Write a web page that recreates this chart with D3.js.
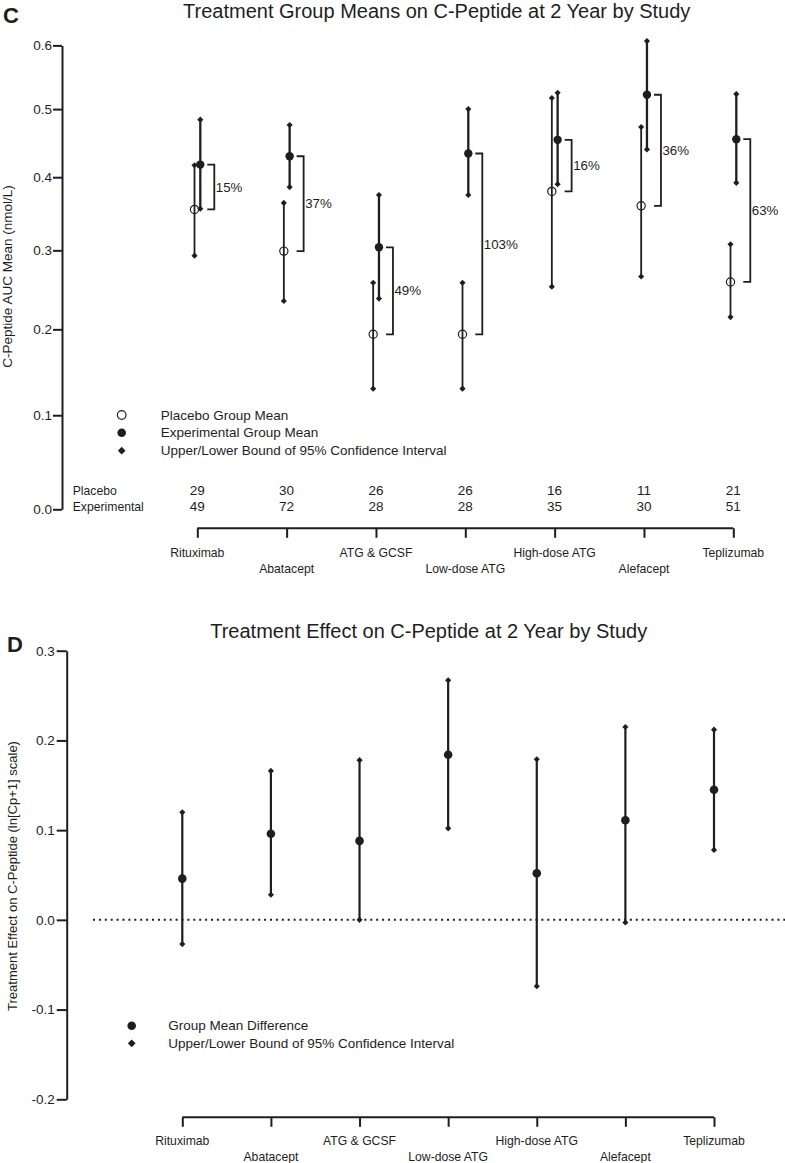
<!DOCTYPE html>
<html>
<head>
<meta charset="utf-8">
<script src="https://cdn.jsdelivr.net/npm/d3@7"></script>
<style>
  html, body { margin: 0; padding: 0; background: #fff; }
  svg { display: block; font-family: "Liberation Sans", Arial, Helvetica, sans-serif; }
</style>
</head>
<body>
<svg id="chart" width="785" height="1163"></svg>
<script>
// ---------- DATA ----------
const categories = ["Rituximab", "Abatacept", "ATG & GCSF", "Low-dose ATG", "High-dose ATG", "Alefacept", "Teplizumab"];

// Panel C: group means (nmol/L) and 95% CI bounds
const placeboMean  = [0.355, 0.299, 0.194, 0.194, 0.380, 0.360, 0.259];
const placeboLower = [0.293, 0.235, 0.130, 0.130, 0.253, 0.266, 0.215];
const placeboUpper = [0.417, 0.364, 0.258, 0.258, 0.517, 0.473, 0.308];
const expMean      = [0.418, 0.430, 0.304, 0.434, 0.454, 0.522, 0.455];
const expLower     = [0.356, 0.386, 0.238, 0.375, 0.390, 0.440, 0.392];
const expUpper     = [0.484, 0.476, 0.375, 0.500, 0.525, 0.607, 0.523];
const pctLabels    = ["15%", "37%", "49%", "103%", "16%", "36%", "63%"];
const nPlacebo     = [29, 30, 26, 26, 16, 11, 21];
const nExperimental= [49, 72, 28, 28, 35, 30, 51];
const topTicks     = [0.0, 0.1, 0.2, 0.3, 0.4, 0.5, 0.6];

// Panel D: treatment effect (ln[Cp+1] scale)
const diffMean  = [0.046, 0.096, 0.088, 0.184, 0.052, 0.111, 0.145];
const diffLower = [-0.027, 0.028, 0.000, 0.102, -0.074, -0.003, 0.078];
const diffUpper = [0.120, 0.166, 0.178, 0.267, 0.179, 0.215, 0.212];
const bottomTicks = [-0.2, -0.1, 0.0, 0.1, 0.2, 0.3];

// ---------- DRAW ----------
const ink = "#1e1e1e";
const svg = d3.select("#chart");
const diamond = d3.symbol().type(d3.symbolDiamond2).size(24);
const legDiamond = d3.symbol().type(d3.symbolDiamond2).size(38);

// ===== Panel C =====
const gC = svg.append("g");
const yC = d3.scaleLog().domain([1, 1.6]).range([509.3, 45.4]);
const yv = v => yC(1 + v);
const xC = d3.scalePoint().domain(categories).range([197.3, 733.3]);

gC.append("text").attr("x", 3).attr("y", 22.7)
  .attr("font-size", 22).attr("font-weight", "bold").attr("fill", ink).text("C");
gC.append("text").attr("x", 436.7).attr("y", 18.2).attr("text-anchor", "middle")
  .attr("font-size", 20).attr("fill", ink).text("Treatment Group Means on C-Peptide at 2 Year by Study");

const axC = gC.append("g").attr("transform", "translate(62,0)")
  .call(d3.axisLeft(yC).tickValues(topTicks.map(t => 1 + t))
    .tickFormat(d => (d - 1).toFixed(1)).tickSize(9).tickSizeOuter(0).tickPadding(1));
axC.select(".domain").attr("stroke", ink).attr("stroke-width", 2);
axC.selectAll(".tick line").attr("stroke", ink).attr("stroke-width", 2);
axC.selectAll(".tick text").attr("font-size", 13.5).attr("fill", ink)
  .attr("font-family", "Liberation Sans, Arial, sans-serif");

gC.append("text").attr("transform", "translate(11.7,276.5) rotate(-90)")
  .attr("text-anchor", "middle").attr("font-size", 13.5).attr("fill", ink)
  .text("C-Peptide AUC Mean (nmol/L)");

// bottom category axis
const axCx = gC.append("g").attr("transform", "translate(0,528.3)")
  .call(d3.axisBottom(xC).tickSize(9.5).tickSizeOuter(0).tickFormat(""));
axCx.select(".domain").attr("stroke", ink).attr("stroke-width", 2)
  .attr("d", `M${xC.range()[0]},0H${xC.range()[1]}`);
axCx.selectAll(".tick line").attr("stroke", ink).attr("stroke-width", 2);
gC.selectAll(".catC").data(categories).join("text")
  .attr("x", d => xC(d)).attr("y", (d, i) => i % 2 === 0 ? 552.5 : 568.5)
  .attr("dy", "0.35em").attr("text-anchor", "middle").attr("font-size", 12.2).attr("fill", ink)
  .text(d => d);

// counts
gC.append("text").attr("x", 72.7).attr("y", 490.7).attr("dy", "0.35em")
  .attr("font-size", 12.2).attr("fill", ink).text("Placebo");
gC.append("text").attr("x", 72.7).attr("y", 506.7).attr("dy", "0.35em")
  .attr("font-size", 12.2).attr("fill", ink).text("Experimental");
gC.selectAll(".nP").data(nPlacebo).join("text")
  .attr("x", (d, i) => xC(categories[i])).attr("y", 490.7).attr("dy", "0.35em")
  .attr("text-anchor", "middle").attr("font-size", 13.5).attr("fill", ink).text(d => d);
gC.selectAll(".nE").data(nExperimental).join("text")
  .attr("x", (d, i) => xC(categories[i])).attr("y", 506.7).attr("dy", "0.35em")
  .attr("text-anchor", "middle").attr("font-size", 13.5).attr("fill", ink).text(d => d);

// error bars, means, brackets
categories.forEach((c, i) => {
  const xp = xC(c) - 2.8, xe = xC(c) + 3;
  gC.append("line").attr("x1", xp).attr("x2", xp)
    .attr("y1", yv(placeboLower[i])).attr("y2", yv(placeboUpper[i]))
    .attr("stroke", ink).attr("stroke-width", 1.8);
  gC.append("line").attr("x1", xe).attr("x2", xe)
    .attr("y1", yv(expLower[i])).attr("y2", yv(expUpper[i]))
    .attr("stroke", ink).attr("stroke-width", 2.3);
  [placeboLower[i], placeboUpper[i]].forEach(v =>
    gC.append("path").attr("d", diamond).attr("transform", `translate(${xp},${yv(v)})`).attr("fill", ink));
  [expLower[i], expUpper[i]].forEach(v =>
    gC.append("path").attr("d", diamond).attr("transform", `translate(${xe},${yv(v)})`).attr("fill", ink));
  gC.append("circle").attr("cx", xp).attr("cy", yv(placeboMean[i])).attr("r", 4.1)
    .attr("fill", "#fff").attr("fill-opacity", 0).attr("stroke", ink).attr("stroke-width", 1.2);
  gC.append("circle").attr("cx", xe).attr("cy", yv(expMean[i])).attr("r", 4.2).attr("fill", ink);
  // bracket
  const bx0 = xC(c) + 10, bx1 = xC(c) + 17;
  const ya = yv(expMean[i]), yb = yv(placeboMean[i]);
  gC.append("path").attr("d", `M${bx0},${ya}H${bx1}V${yb}H${bx0}`)
    .attr("fill", "none").attr("stroke", ink).attr("stroke-width", 1.8);
  gC.append("text").attr("x", bx1 + 1.5).attr("y", (ya + yb) / 2).attr("dy", "0.35em")
    .attr("font-size", 13.3).attr("fill", ink).text(pctLabels[i]);
});

// legend C
const legC = [
  {y: 415, type: "open", label: "Placebo Group Mean"},
  {y: 432.7, type: "filled", label: "Experimental Group Mean"},
  {y: 450.7, type: "diamond", label: "Upper/Lower Bound of 95% Confidence Interval"}
];
legC.forEach(l => {
  if (l.type === "open") gC.append("circle").attr("cx", 121.7).attr("cy", l.y).attr("r", 4.3)
    .attr("fill", "none").attr("stroke", ink).attr("stroke-width", 1.2);
  else if (l.type === "filled") gC.append("circle").attr("cx", 121.7).attr("cy", l.y).attr("r", 4.3).attr("fill", ink);
  else gC.append("path").attr("d", legDiamond).attr("transform", `translate(121.7,${l.y})`).attr("fill", ink);
  gC.append("text").attr("x", 160.7).attr("y", l.y).attr("dy", "0.35em")
    .attr("font-size", 13.5).attr("fill", ink).text(l.label);
});

// ===== Panel D =====
const gD = svg.append("g");
const yD = d3.scaleLinear().domain([-0.2, 0.3]).range([1099.3, 650.7]);
const xD = d3.scalePoint().domain(categories).range([182.3, 714]);

gD.append("text").attr("x", 7).attr("y", 651.7)
  .attr("font-size", 22).attr("font-weight", "bold").attr("fill", ink).text("D");
gD.append("text").attr("x", 428.7).attr("y", 638.3).attr("text-anchor", "middle")
  .attr("font-size", 20).attr("fill", ink).text("Treatment Effect on C-Peptide at 2 Year by Study");

const axD = gD.append("g").attr("transform", "translate(66.7,0)")
  .call(d3.axisLeft(yD).tickValues(bottomTicks)
    .tickFormat(d => d.toFixed(1)).tickSize(10).tickSizeOuter(0).tickPadding(2));
axD.select(".domain").attr("stroke", ink).attr("stroke-width", 2);
axD.selectAll(".tick line").attr("stroke", ink).attr("stroke-width", 2);
axD.selectAll(".tick text").attr("font-size", 13.5).attr("fill", ink)
  .attr("font-family", "Liberation Sans, Arial, sans-serif");

gD.append("text").attr("transform", "translate(17.3,876) rotate(-90)")
  .attr("text-anchor", "middle").attr("font-size", 13).attr("fill", ink)
  .text("Treatment Effect on C-Peptide (ln[Cp+1] scale)");

// zero reference line
gD.append("line").attr("x1", 93).attr("x2", 785).attr("y1", yD(0)).attr("y2", yD(0))
  .attr("stroke", ink).attr("stroke-width", 2).attr("stroke-dasharray", "2,3.9");

const axDx = gD.append("g").attr("transform", "translate(0,1117.3)")
  .call(d3.axisBottom(xD).tickSize(9.5).tickSizeOuter(0).tickFormat(""));
axDx.select(".domain").attr("stroke", ink).attr("stroke-width", 2)
  .attr("d", `M${xD.range()[0]},0H${xD.range()[1]}`);
axDx.selectAll(".tick line").attr("stroke", ink).attr("stroke-width", 2);
gD.selectAll(".catD").data(categories).join("text")
  .attr("x", d => xD(d)).attr("y", (d, i) => i % 2 === 0 ? 1141.2 : 1156.3)
  .attr("dy", "0.35em").attr("text-anchor", "middle").attr("font-size", 12.2).attr("fill", ink)
  .text(d => d);

categories.forEach((c, i) => {
  const x = xD(c);
  gD.append("line").attr("x1", x).attr("x2", x)
    .attr("y1", yD(diffLower[i])).attr("y2", yD(diffUpper[i]))
    .attr("stroke", ink).attr("stroke-width", 2.2);
  [diffLower[i], diffUpper[i]].forEach(v =>
    gD.append("path").attr("d", diamond).attr("transform", `translate(${x},${yD(v)})`).attr("fill", ink));
  gD.append("circle").attr("cx", x).attr("cy", yD(diffMean[i])).attr("r", 4.3).attr("fill", ink);
});

const legD = [
  {y: 1025.7, type: "filled", label: "Group Mean Difference"},
  {y: 1043.3, type: "diamond", label: "Upper/Lower Bound of 95% Confidence Interval"}
];
legD.forEach(l => {
  if (l.type === "filled") gD.append("circle").attr("cx", 131.7).attr("cy", l.y).attr("r", 4.3).attr("fill", ink);
  else gD.append("path").attr("d", legDiamond).attr("transform", `translate(131.7,${l.y})`).attr("fill", ink);
  gD.append("text").attr("x", 168.3).attr("y", l.y).attr("dy", "0.35em")
    .attr("font-size", 13.5).attr("fill", ink).text(l.label);
});
</script>
</body>
</html>
